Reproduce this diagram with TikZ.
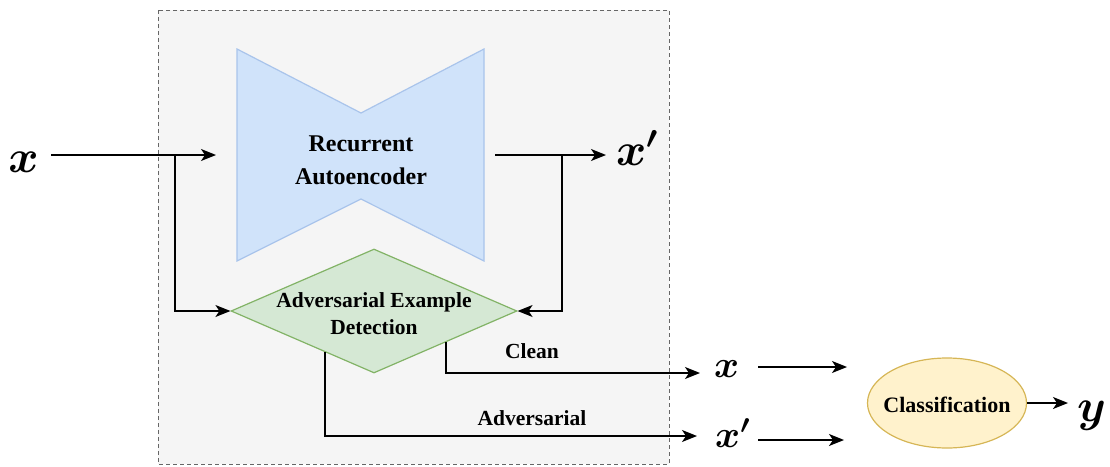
\RequirePackage{fix-cm}
\documentclass[tikz,border=0pt]{standalone}
\usepackage{fontspec}
\setmainfont{Liberation Serif}
\usetikzlibrary{shapes.geometric,arrows.meta}

\definecolor{boxfill}{HTML}{F5F5F5}
\definecolor{boxline}{HTML}{666666}
\definecolor{aefill}{HTML}{D0E3FA}
\definecolor{aeline}{HTML}{A9C4EB}
\definecolor{detfill}{HTML}{D5E8D4}
\definecolor{detline}{HTML}{82B366}
\definecolor{clsfill}{HTML}{FFF2CC}
\definecolor{clsline}{HTML}{D6B656}

\tikzset{
  arr/.style={line width=1.4pt, -{Stealth[length=15pt,width=12pt,inset=4pt]}},
  lbl/.style={font=\bfseries\fontsize{21.5}{27}\selectfont, align=center, inner sep=0pt},
  bigvar/.style={font=\fontsize{46}{46}\selectfont\boldmath, inner sep=0pt},
  smallvar/.style={font=\fontsize{38}{38}\selectfont\boldmath, inner sep=0pt},
}

\begin{document}
\begin{tikzpicture}[x=1pt,y=-1pt]
\useasboundingbox (0,0) rectangle (1110,466);

% defence module frame
\path[fill=boxfill, draw=boxline, line width=1pt, dash pattern=on 4pt off 3pt]
  (158,10) rectangle (669,464);

% recurrent autoencoder (hourglass)
\path[fill=aefill, draw=aeline, line width=1.2pt]
  (237,49) -- (361,113) -- (484,49) -- (484,261) -- (361,199) -- (237,261) -- cycle;
\node[lbl, font=\bfseries\fontsize{24}{33}\selectfont] (ae) at (361,160) {Recurrent\\Autoencoder};

% detection diamond
\node[diamond, fill=detfill, draw=detline, line width=1.2pt, inner sep=0pt,
      minimum width=286pt, minimum height=124pt] (det) at (374,311) {};
\node[lbl] (detlbl) at (374,314) {Adversarial Example\\Detection};

% classifier
\node[ellipse, fill=clsfill, draw=clsline, line width=1.2pt, inner sep=0pt,
      minimum width=159pt, minimum height=90pt] (cls) at (947,403) {};
\node[lbl, font=\bfseries\fontsize{22}{26}\selectfont] (clslbl) at (947,405) {Classification};

% variables
\node[bigvar, anchor=base] (xin) at (23.5,172) {$x$};
\node[bigvar, anchor=base west] (xout) at (616,165) {$x'$};
\node[smallvar, anchor=base west] (xc) at (714,377) {$x$};
\node[smallvar, anchor=base west] (xa) at (715,447) {$x'$};
\node[bigvar, anchor=base west] (yout) at (1077,421) {$y$};

% branch labels
\node[lbl] (cleanlbl) at (532,351) {Clean};
\node[lbl] (advlbl) at (532,418) {Adversarial};

% connector end points
\coordinate (xinEnd) at (51,155);
\coordinate (aeIn) at (216,155);
\coordinate (split1) at (175,155);
\coordinate (aeOut) at (495,155);
\coordinate (xpEnd) at (606,155);
\coordinate (split2) at (562,155);
\coordinate (cleanEnd) at (700,373);
\coordinate (advEnd) at (697,436);
\coordinate (cx1) at (758,367);
\coordinate (cx2) at (847,367);
\coordinate (cxp1) at (758,440);
\coordinate (cxp2) at (844,440);
\coordinate (yEnd) at (1068,403);

% connectors
\draw[arr] (xinEnd) -- (aeIn);
\draw[arr] (split1) |- (det.west);
\draw[arr] (aeOut) -- (xpEnd);
\draw[arr] (split2) |- (det.east);
\draw[arr] (det.south east) |- (cleanEnd);
\draw[arr] (det.220) |- (advEnd);
\draw[arr] (cx1) -- (cx2);
\draw[arr] (cxp1) -- (cxp2);
\draw[arr] (cls.east) -- (yEnd);
\end{tikzpicture}
\end{document}
